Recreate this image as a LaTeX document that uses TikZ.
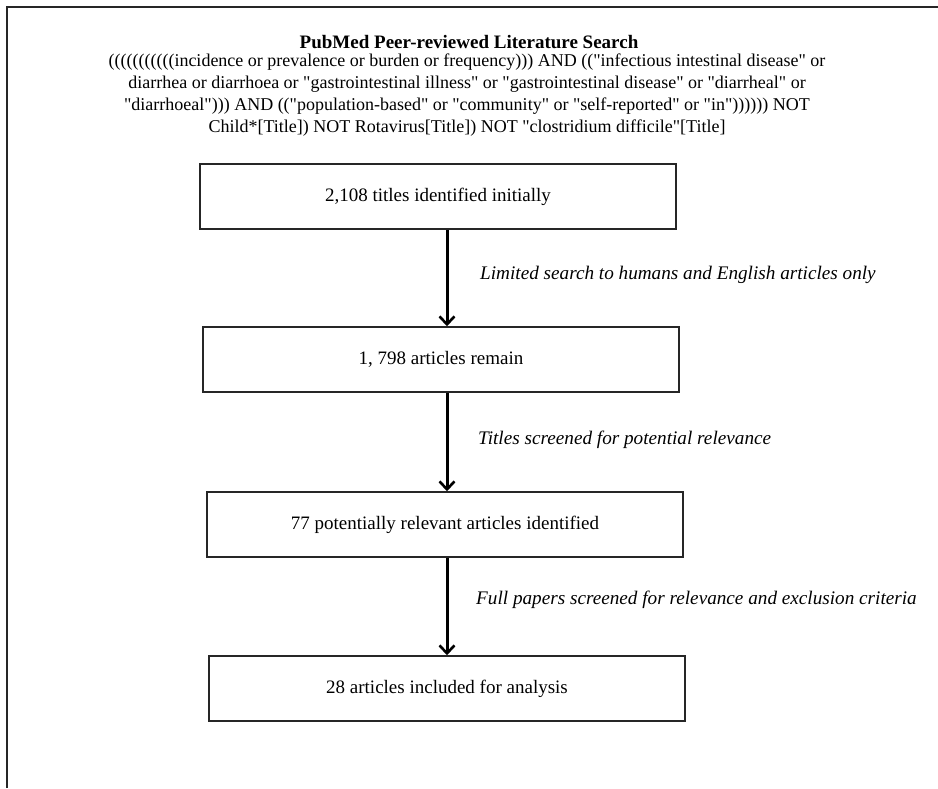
\documentclass[tikz,border=0pt]{standalone}
\usepackage{fontspec}
\setmainfont{Liberation Serif}
\usetikzlibrary{arrows.meta}
\newcommand{\dq}{\textquotedbl}
\begin{document}
\begin{tikzpicture}[x=1pt,y=-1pt,
  stagebox/.style={draw=black!85, line width=1.5pt, minimum width=476pt,
    minimum height=65pt, inner sep=0pt, font=\fontsize{19}{22}\selectfont},
  flow/.style={line width=3pt, -{Straight Barb[length=8pt,width=15pt,line width=2.6pt]}},
  steplabel/.style={anchor=west, inner sep=0pt, font=\fontsize{19.2}{22}\selectfont\itshape},
  frame/.style={line width=1.6pt, draw=black!85}]
\useasboundingbox (0,0) rectangle (938,788);

% page frame (top and left rules)
\draw[frame] (7,788) -- (7,7) -- (938,7);

% heading and search string
\node[inner sep=0pt, font=\fontsize{19}{22}\selectfont\bfseries] (title) at (469,42)
  {PubMed Peer-reviewed Literature Search};
\node[inner sep=0pt, align=center, font=\fontsize{18}{22}\selectfont] (query) at (467,95.5)
  {(((((((((((incidence or prevalence or burden or frequency))) AND ((\dq infectious intestinal disease\dq{} or\\
  diarrhea or diarrhoea or \dq gastrointestinal illness\dq{} or \dq gastrointestinal disease\dq{} or \dq diarrheal\dq{} or\\
  \dq diarrhoeal\dq))) AND ((\dq population-based\dq{} or \dq community\dq{} or \dq self-reported\dq{} or \dq in\dq)))))) NOT\\
  Child*[Title]) NOT Rotavirus[Title]) NOT \dq clostridium difficile\dq[Title]};

% stages
\node[stagebox] (b1) at (438,196.5) {2,108 titles identified initially};
\node[stagebox] (b2) at (441,359.5) {1, 798 articles remain};
\node[stagebox] (b3) at (445,524.5) {77 potentially relevant articles identified};
\node[stagebox] (b4) at (447,688.5) {28 articles included for analysis};

\coordinate (spine) at (447,0);
\draw[flow] (b1.south -| spine) -- (b2.north -| spine);
\draw[flow] (b2.south -| spine) -- (b3.north -| spine);
\draw[flow] (b3.south -| spine) -- (b4.north -| spine);

% step descriptions
\node[steplabel] (l1) at (480,275) {Limited search to humans and English articles only};
\node[steplabel] (l2) at (478,440) {Titles screened for potential relevance};
\node[steplabel] (l3) at (476,600) {Full papers screened for relevance and exclusion criteria};
\end{tikzpicture}
\end{document}
